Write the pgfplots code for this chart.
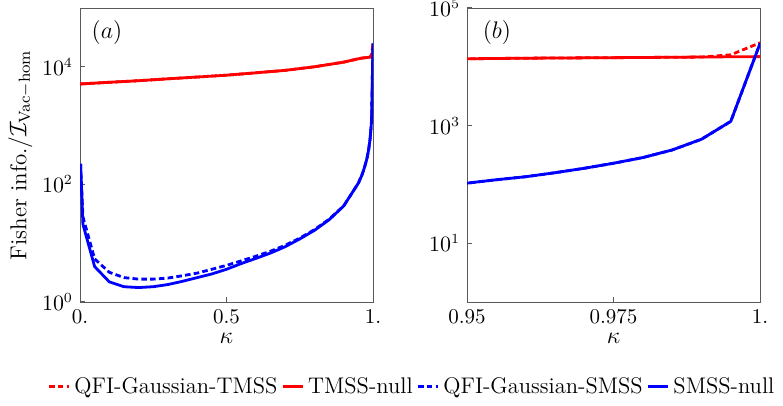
\documentclass[border=0pt]{standalone}
\usepackage{pgfplots}
\pgfplotsset{compat=1.18}
\usepackage{pgfplotstable}

\pgfplotstableread{
k tn tq
0 5100 5100
0.1 5450 5450
0.2 5800 5800
0.3 6250 6250
0.4 6700 6700
0.5 7200 7200
0.6 7900 7900
0.7 8700 8700
0.8 10000 10000
0.9 12000 12000
0.95 13700 13700
0.96 14000 14000
0.97 14200 14200
0.98 14400 14400
0.99 14650 14650
0.995 14800 16000
1.0 14900 25600
}\redtab

\pgfplotstableread{
k sn sq
0.002 224 224
0.01 21 28
0.05 4.0 5.4
0.1 2.2 3.2
0.15 1.82 2.6
0.2 1.76 2.45
0.25 1.82 2.45
0.3 1.98 2.55
0.35 2.25 2.8
0.4 2.6 3.1
0.45 3.0 3.6
0.5 3.6 4.2
0.55 4.5 5.0
0.6 5.5 6.0
0.65 6.8 7.3
0.7 8.7 9.2
0.75 11.8 12.2
0.8 16.5 17
0.85 25 25.5
0.9 43 43
0.95 105 105
0.955 120 120
0.96 135 135
0.965 158 158
0.97 188 188
0.975 229 229
0.98 286 286
0.985 385 385
0.99 586 586
0.995 1180 1180
1.0 25000 25000
}\bluetab

\tikzset{
  tq/.style={red, line width=1.4pt, dash pattern=on 2.8pt off 1.6pt},
  tn/.style={red, line width=1.4pt},
  sq/.style={blue, line width=1.4pt, dash pattern=on 2.8pt off 1.6pt},
  sn/.style={blue, line width=1.4pt},
}

\begin{document}
\begin{tikzpicture}
\useasboundingbox (0,0) rectangle (391.5pt,203pt);
\begin{semilogyaxis}[at={(40pt,52pt)}, anchor=south west,
  scale only axis, width=146.5pt, height=147pt,
  ymin=1, ymax=1e5,
  axis line style={black!65}, tick style={black!65, line width=0.5pt},
  major tick length=2.5pt, yminorticks=false, xminorticks=false,
  tick pos=left,
  tick label style={font=\fontsize{10.5}{12}\selectfont},
  label style={font=\fontsize{11.5}{14}\selectfont},
  xlabel={$\kappa$},
  xlabel style={yshift=2pt},
  xmin=0, xmax=1, xtick={0,0.5,1}, xticklabels={0.,0.5,1.},
  ytick={1,100,10000},
  ylabel={Fisher info.$/\mathcal{I}_{\mathrm{Vac-hom}}$},
  ylabel style={yshift=-2pt},
  legend columns=4,
  legend style={at={(1.1365,-0.2878)}, anchor=center, draw=none, fill=none,
    font=\fontsize{11.3}{13}\selectfont,
    /tikz/every even column/.append style={column sep=0pt}},
  legend image code/.code={\draw[#1] (0pt,0pt) -- (10pt,0pt);},
]
\addplot[tn, forget plot] table[x=k, y=tn] {\redtab};
\addplot[tq, forget plot] table[x=k, y=tq] {\redtab};
\addplot[sn, forget plot] table[x=k, y=sn] {\bluetab};
\addplot[sq, forget plot] table[x=k, y=sq] {\bluetab};
\addlegendimage{red, line width=1.4pt, dash pattern=on 2.8pt off 1.6pt}
\addlegendentry{QFI-Gaussian-TMSS}
\addlegendimage{red, line width=1.4pt}
\addlegendentry{TMSS-null}
\addlegendimage{blue, line width=1.4pt, dash pattern=on 2.8pt off 1.6pt}
\addlegendentry{QFI-Gaussian-SMSS}
\addlegendimage{blue, line width=1.4pt}
\addlegendentry{SMSS-null}
\node[font=\fontsize{13}{15}\selectfont] at (rel axis cs:0.092,0.917) {$(a)$};
\end{semilogyaxis}
\begin{semilogyaxis}[at={(233.5pt,52pt)}, anchor=south west,
  scale only axis, width=146.5pt, height=147pt,
  ymin=1, ymax=1e5,
  axis line style={black!65}, tick style={black!65, line width=0.5pt},
  major tick length=2.5pt, yminorticks=false, xminorticks=false,
  tick pos=left,
  tick label style={font=\fontsize{10.5}{12}\selectfont},
  label style={font=\fontsize{11.5}{14}\selectfont},
  xlabel={$\kappa$},
  xlabel style={yshift=2pt},
  xmin=0.95, xmax=1, xtick={0.95,0.975,1}, xticklabels={0.95,0.975,1.},
  ytick={10,1000,100000},
]
\addplot[tn] table[x=k, y=tn] {\redtab};
\addplot[tq] table[x=k, y=tq] {\redtab};
\addplot[sn] table[x=k, y=sn] {\bluetab};
\addplot[sq] table[x=k, y=sq] {\bluetab};
\node[font=\fontsize{13}{15}\selectfont] at (rel axis cs:0.102,0.917) {$(b)$};
\end{semilogyaxis}
\end{tikzpicture}
\end{document}
